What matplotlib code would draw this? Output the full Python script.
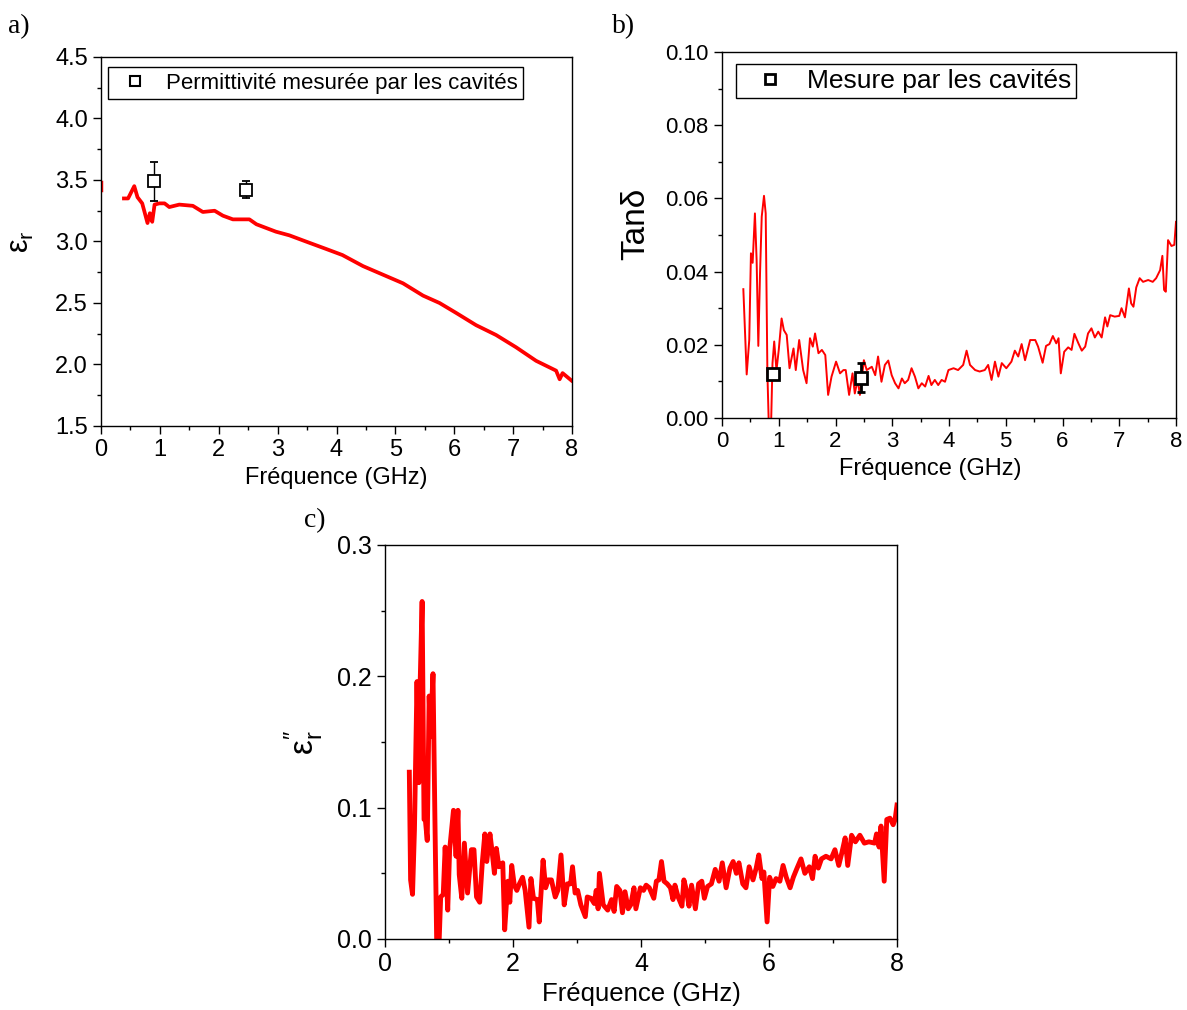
import matplotlib
matplotlib.use("Agg")
import matplotlib.pyplot as plt
from matplotlib.lines import Line2D
from matplotlib.ticker import MultipleLocator

plt.rcParams['font.family'] = ['Liberation Sans', 'DejaVu Sans']
plt.rcParams['mathtext.default'] = 'regular'

# ---- a) permittivity (real part) ----
fa = [0.39, 0.46, 0.565, 0.62, 0.70, 0.79, 0.83, 0.87, 0.91, 0.99, 1.08, 1.16, 1.33,
      1.56, 1.73, 1.93, 2.07, 2.24, 2.52, 2.64, 2.97, 3.2, 3.48, 3.82, 4.1, 4.45,
      4.79, 5.13, 5.47, 5.75, 6.03, 6.37, 6.71, 7.05, 7.39, 7.73, 7.79, 7.84, 7.99]
era = [3.35, 3.35, 3.45, 3.36, 3.31, 3.15, 3.23, 3.16, 3.30, 3.31, 3.31, 3.28, 3.30,
       3.29, 3.24, 3.25, 3.21, 3.18, 3.18, 3.14, 3.08, 3.05, 3.00, 2.94, 2.89, 2.80,
       2.73, 2.66, 2.56, 2.50, 2.42, 2.32, 2.24, 2.14, 2.03, 1.95, 1.88, 1.93, 1.87]
fa_start = [0.0, 0.0]
era_start = [3.42, 3.48]
fa_cav = [0.90, 2.46]
era_cav = [3.49, 3.42]
era_err = [0.16, 0.07]

# ---- b) loss tangent ----
fb = [0.376, 0.435, 0.48, 0.51, 0.54, 0.58, 0.61, 0.64, 0.67, 0.70, 0.74, 0.77, 0.80,
      0.83, 0.86, 0.89, 0.92, 0.96, 1.0, 1.05, 1.09, 1.14, 1.19, 1.26, 1.30, 1.36,
      1.43, 1.49, 1.55, 1.60, 1.64, 1.70, 1.76, 1.82, 1.87, 1.93, 2.01, 2.08, 2.14,
      2.18, 2.24, 2.30, 2.34, 2.39, 2.43, 2.50, 2.55, 2.64, 2.70, 2.75, 2.81, 2.87,
      2.93, 2.99, 3.05, 3.11, 3.17, 3.22, 3.28, 3.34, 3.40, 3.46, 3.52, 3.58, 3.64,
      3.69, 3.75, 3.81, 3.87, 3.93, 3.99, 4.08, 4.16, 4.25, 4.31, 4.37, 4.46, 4.54,
      4.63, 4.69, 4.75, 4.81, 4.87, 4.93, 5.01, 5.10, 5.16, 5.22, 5.28, 5.34, 5.43,
      5.52, 5.57, 5.65, 5.71, 5.77, 5.83, 5.89, 5.93, 5.97, 6.03, 6.10, 6.16, 6.21,
      6.28, 6.34, 6.40, 6.45, 6.51, 6.57, 6.63, 6.69, 6.75, 6.79, 6.84, 6.92, 7.00,
      7.04, 7.10, 7.17, 7.21, 7.25, 7.30, 7.36, 7.42, 7.51, 7.59, 7.65, 7.72, 7.76,
      7.79, 7.82, 7.86, 7.92, 7.97, 8.0]
tand = [0.0352, 0.0119, 0.0213, 0.045, 0.0424, 0.0559, 0.0432, 0.0197, 0.0395, 0.055,
        0.0607, 0.0559, 0.0122, -0.005, -0.005, 0.015, 0.0209, 0.013, 0.0186, 0.0272,
        0.024, 0.0227, 0.0136, 0.019, 0.0131, 0.0213, 0.0131, 0.0095, 0.0218, 0.0195,
        0.0231, 0.0177, 0.0186, 0.0172, 0.0063, 0.0113, 0.0154, 0.0122, 0.0131, 0.0131,
        0.0063, 0.0122, 0.0067, 0.0104, 0.0063, 0.0158, 0.0131, 0.014, 0.0117, 0.0168,
        0.0099, 0.0145, 0.0157, 0.0117, 0.0095, 0.0081, 0.0108, 0.0095, 0.0104, 0.0136,
        0.0113, 0.0081, 0.0095, 0.0086, 0.0115, 0.009, 0.0104, 0.009, 0.0104, 0.0099,
        0.0131, 0.0136, 0.0131, 0.0145, 0.0184, 0.0145, 0.0131, 0.0127, 0.0131, 0.0145,
        0.0104, 0.0154, 0.0113, 0.015, 0.0136, 0.0154, 0.0184, 0.0168, 0.0202, 0.0158,
        0.0213, 0.0213, 0.0195, 0.0151, 0.0197, 0.0202, 0.0224, 0.0204, 0.0218, 0.0122,
        0.0181, 0.0193, 0.0186, 0.0230, 0.0204, 0.0184, 0.0195, 0.0231, 0.0245, 0.022,
        0.0236, 0.022, 0.0275, 0.025, 0.0281, 0.0277, 0.0279, 0.03, 0.0275, 0.0354,
        0.0313, 0.0304, 0.0357, 0.0382, 0.0372, 0.0377, 0.0372, 0.0382, 0.0404, 0.0443,
        0.035, 0.0345, 0.0486, 0.047, 0.0473, 0.0536]
fb_cav = [0.90, 2.45]
tand_cav = [0.012, 0.011]
tand_err = [0.0, 0.004]

# ---- c) imaginary permittivity ----
fc = [0.38, 0.40, 0.43, 0.46, 0.50, 0.53, 0.55, 0.58, 0.61, 0.63, 0.66, 0.69, 0.71,
      0.75, 0.78, 0.81, 0.84, 0.87, 0.91, 0.94, 0.98, 1.01, 1.07, 1.11, 1.14, 1.16,
      1.20, 1.24, 1.29, 1.35, 1.39, 1.43, 1.48, 1.52, 1.56, 1.59, 1.64, 1.67, 1.71,
      1.74, 1.78, 1.84, 1.87, 1.92, 1.95, 1.98, 2.02, 2.06, 2.10, 2.15, 2.19, 2.25,
      2.28, 2.32, 2.38, 2.41, 2.47, 2.51, 2.55, 2.60, 2.66, 2.70, 2.75, 2.80, 2.85,
      2.90, 2.93, 2.97, 3.01, 3.06, 3.13, 3.16, 3.22, 3.27, 3.30, 3.33, 3.35, 3.41,
      3.48, 3.54, 3.58, 3.62, 3.67, 3.71, 3.75, 3.80, 3.84, 3.89, 3.92, 3.99, 4.04,
      4.08, 4.13, 4.20, 4.24, 4.28, 4.32, 4.36, 4.41, 4.46, 4.50, 4.53, 4.58, 4.64,
      4.67, 4.71, 4.75, 4.79, 4.85, 4.90, 4.95, 4.99, 5.04, 5.10, 5.16, 5.22, 5.27,
      5.33, 5.39, 5.44, 5.49, 5.53, 5.59, 5.64, 5.69, 5.75, 5.80, 5.84, 5.89, 5.92,
      5.97, 6.01, 6.06, 6.11, 6.17, 6.22, 6.27, 6.33, 6.38, 6.43, 6.50, 6.56, 6.63,
      6.68, 6.72, 6.77, 6.82, 6.89, 6.97, 7.03, 7.09, 7.14, 7.19, 7.23, 7.29, 7.35,
      7.42, 7.49, 7.56, 7.65, 7.68, 7.72, 7.75, 7.80, 7.84, 7.89, 7.94, 7.97, 8.0]
eri = [0.127, 0.045, 0.034, 0.083, 0.196, 0.119, 0.196, 0.257, 0.091, 0.091, 0.075,
       0.185, 0.154, 0.202, 0.091, -0.01, -0.01, 0.032, 0.034, 0.070, 0.022, 0.068,
       0.098, 0.063, 0.098, 0.049, 0.031, 0.073, 0.035, 0.068, 0.068, 0.032, 0.028,
       0.058, 0.080, 0.059, 0.080, 0.068, 0.050, 0.069, 0.055, 0.058, 0.007, 0.044,
       0.028, 0.056, 0.041, 0.037, 0.042, 0.047, 0.037, 0.009, 0.046, 0.031, 0.030,
       0.013, 0.060, 0.039, 0.045, 0.045, 0.032, 0.037, 0.064, 0.026, 0.042, 0.042,
       0.055, 0.035, 0.037, 0.026, 0.017, 0.032, 0.031, 0.027, 0.037, 0.023, 0.050,
       0.026, 0.022, 0.030, 0.021, 0.040, 0.037, 0.020, 0.036, 0.023, 0.026, 0.039,
       0.023, 0.039, 0.037, 0.041, 0.039, 0.031, 0.044, 0.045, 0.059, 0.044, 0.042,
       0.039, 0.030, 0.041, 0.032, 0.025, 0.045, 0.037, 0.025, 0.041, 0.023, 0.042,
       0.044, 0.031, 0.040, 0.042, 0.053, 0.044, 0.058, 0.039, 0.054, 0.059, 0.050,
       0.058, 0.042, 0.039, 0.055, 0.045, 0.054, 0.064, 0.046, 0.051, 0.013, 0.047,
       0.040, 0.046, 0.044, 0.056, 0.047, 0.039, 0.047, 0.053, 0.061, 0.050, 0.055,
       0.046, 0.063, 0.054, 0.061, 0.063, 0.061, 0.068, 0.056, 0.066, 0.077, 0.056,
       0.079, 0.074, 0.079, 0.073, 0.074, 0.073, 0.080, 0.070, 0.086, 0.044, 0.091,
       0.092, 0.087, 0.091, 0.102]

W, H = 1187, 1010
fig = plt.figure(figsize=(W / 100, H / 100), dpi=100)


def box(l, r, t, b):
    return [l / W, 1 - b / H, (r - l) / W, (b - t) / H]


def style(ax, size):
    ax.tick_params(which='both', direction='out', top=False, right=False,
                   labelsize=size, width=1)
    ax.tick_params(which='major', length=6)
    ax.tick_params(which='minor', length=3)
    for s in ax.spines.values():
        s.set_linewidth(1)


# a)
ax1 = fig.add_axes(box(101, 572, 57, 426))
ax1.plot(fa_start, era_start, color='red', lw=2.5)
ax1.plot(fa, era, color='red', lw=2.7)
ax1.errorbar(fa_cav, era_cav, yerr=era_err, fmt='s', mfc='white', mec='black',
             mew=1.3, ms=8, ecolor='black', elinewidth=1, capsize=3)
ax1.set_xlim(0, 8)
ax1.set_ylim(1.5, 4.5)
ax1.xaxis.set_major_locator(MultipleLocator(1))
ax1.xaxis.set_minor_locator(MultipleLocator(0.5))
ax1.yaxis.set_major_locator(MultipleLocator(0.5))
ax1.yaxis.set_minor_locator(MultipleLocator(0.25))
ax1.yaxis.set_major_formatter('{x:.1f}')
style(ax1, 17)
ax1.set_xlabel('Fréquence (GHz)', fontsize=17, labelpad=4)
ax1.set_ylabel('$ε_r$', fontsize=22, labelpad=14)
h1 = Line2D([], [], ls='none', marker='s', mfc='white', mec='black', mew=1.5, ms=7)
ax1.legend([h1], ['Permittivité mesurée par les cavités'], loc='upper left',
           bbox_to_anchor=(0.0, 0.99), fontsize=16, frameon=True, fancybox=False,
           edgecolor='black', framealpha=1, handletextpad=0.43, borderpad=0.25,
           handlelength=1.93, borderaxespad=0.3)
fig.text(8 / W, 1 - 33 / H, 'a)', family='Liberation Serif', fontsize=20)

# b)
ax2 = fig.add_axes(box(722, 1176, 52, 418))
ax2.plot(fb, tand, color='red', lw=1.4)
ax2.errorbar(fb_cav, tand_cav, yerr=tand_err, fmt='s', mfc='white', mec='black',
             mew=2, ms=8, ecolor='black', elinewidth=2, capsize=3, capthick=2)
ax2.set_xlim(0, 8)
ax2.set_ylim(0, 0.10)
ax2.xaxis.set_major_locator(MultipleLocator(1))
ax2.xaxis.set_minor_locator(MultipleLocator(0.5))
ax2.yaxis.set_major_locator(MultipleLocator(0.02))
ax2.yaxis.set_minor_locator(MultipleLocator(0.01))
ax2.yaxis.set_major_formatter('{x:.2f}')
style(ax2, 16)
ax2.set_xlabel('Fréquence (GHz)', fontsize=17, labelpad=4, x=0.458)
ax2.set_ylabel('Tanδ', fontsize=24, labelpad=10, y=0.53)
h2 = Line2D([], [], ls='none', marker='s', mfc='white', mec='black', mew=2, ms=7)
ax2.legend([h2], ['Mesure par les cavités'], loc='upper left',
           bbox_to_anchor=(0.013, 0.99), fontsize=19, frameon=True, fancybox=False,
           edgecolor='black', framealpha=1, handletextpad=0.31, borderpad=0.2,
           handlelength=2.17, borderaxespad=0.3)
fig.text(612 / W, 1 - 33 / H, 'b)', family='Liberation Serif', fontsize=20)

# c)
ax3 = fig.add_axes(box(385, 897, 545, 939))
ax3.plot(fc, eri, color='red', lw=3.5)
ax3.set_xlim(0, 8)
ax3.set_ylim(0, 0.3)
ax3.xaxis.set_major_locator(MultipleLocator(2))
ax3.xaxis.set_minor_locator(MultipleLocator(1))
ax3.yaxis.set_major_locator(MultipleLocator(0.1))
ax3.yaxis.set_minor_locator(MultipleLocator(0.05))
ax3.yaxis.set_major_formatter('{x:.1f}')
style(ax3, 18)
ax3.set_xlabel('Fréquence (GHz)', fontsize=18.5, labelpad=4)
ax3.set_ylabel('$ε_r^{″}$', fontsize=24, labelpad=8)
fig.text(304 / W, 1 - 527 / H, 'c)', family='Liberation Serif', fontsize=20)

fig.savefig('out.png', dpi=100)
